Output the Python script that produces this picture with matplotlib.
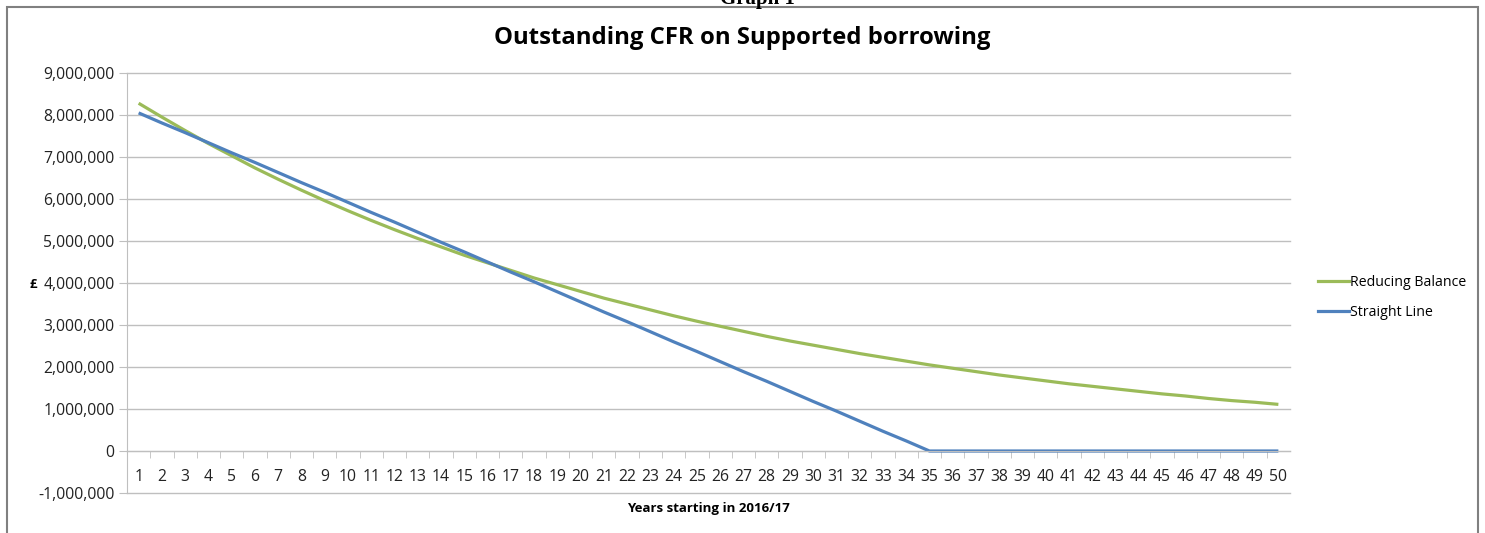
import numpy as np
import matplotlib.pyplot as plt
from matplotlib.ticker import FuncFormatter, MultipleLocator
from matplotlib.lines import Line2D
from matplotlib.patches import Rectangle

plt.rcParams['font.family'] = ['Open Sans', 'DejaVu Sans']

# years 1..50 starting in 2016/17
years = list(range(1, 51))

# outstanding CFR, pounds
reducing_balance = [
    8280000, 7950000, 7630000, 7320000, 7030000, 6740000, 6470000, 6210000, 5960000, 5720000,
    5490000, 5270000, 5060000, 4860000, 4660000, 4480000, 4300000, 4120000, 3960000, 3800000,
    3640000, 3500000, 3360000, 3220000, 3090000, 2970000, 2850000, 2730000, 2620000, 2520000,
    2420000, 2320000, 2230000, 2140000, 2050000, 1970000, 1890000, 1810000, 1740000, 1670000,
    1600000, 1540000, 1480000, 1420000, 1360000, 1310000, 1250000, 1200000, 1160000, 1110000,
]
straight_line = [
    8050000, 7810000, 7580000, 7340000, 7100000, 6870000, 6630000, 6390000, 6160000, 5920000,
    5680000, 5450000, 5210000, 4970000, 4740000, 4500000, 4260000, 4030000, 3790000, 3550000,
    3310000, 3080000, 2840000, 2600000, 2370000, 2130000, 1890000, 1660000, 1420000, 1180000,
    950000, 710000, 470000, 240000, 0, 0, 0, 0, 0, 0,
    0, 0, 0, 0, 0, 0, 0, 0, 0, 0,
]
series_names = ['Reducing Balance', 'Straight Line']

green = '#9BBB59'
blue = '#4F81BD'
grid_c = '#BFBFBF'

fig = plt.figure(figsize=(14.85, 5.33), dpi=100)
fig.patch.set_facecolor('white')
ax = fig.add_axes([127/1485, 1 - 493/533, (1290 - 127)/1485, (493 - 73)/533])

ax.plot(years, reducing_balance, color=green, lw=2.3, solid_capstyle='butt')
ax.plot(years, straight_line, color=blue, lw=2.3, solid_capstyle='butt')

ax.set_xlim(0.5, 50.5)
ax.set_ylim(-1000000, 9000000)
ax.yaxis.set_major_locator(MultipleLocator(1000000))
ax.yaxis.set_major_formatter(FuncFormatter(lambda v, p: f'{int(v):,}'))
ax.grid(axis='y', color=grid_c, lw=1.0)
for gl in ax.get_ygridlines():
    gl.set_clip_on(False)
ax.set_axisbelow(True)

# category axis sits on zero, ticks between the categories
ax.spines['bottom'].set_position(('data', 0))
for s in ['top', 'right']:
    ax.spines[s].set_visible(False)
ax.spines['left'].set_color(grid_c)
ax.spines['bottom'].set_color(grid_c)
ax.set_xticks(years)
ax.set_xticks(np.arange(1.5, 50.5, 1.0), minor=True)
ax.tick_params(axis='x', which='major', length=0, pad=13, labelsize=11.3, colors='#222222')
ax.tick_params(axis='x', which='minor', length=5, color=grid_c, direction='out')
ax.tick_params(axis='y', length=6, color=grid_c, pad=3, labelsize=11.3, labelcolor='#222222')

ax.set_xlabel('Years starting in 2016/17', fontsize=9.5, fontweight='bold', labelpad=0)
ax.xaxis.set_label_coords(0.5, -0.022)
fig.text(33/1485, 1 - 284/533, '£', fontsize=9.5, fontweight='bold', ha='center', va='center')

fig.text(0.5, 1 - 38/533, 'Outstanding CFR on Supported borrowing',
         fontsize=17.2, fontweight='bold', ha='center', va='center')
fig.text(757/1485, 1 - 4/533, 'Graph 1', family='Liberation Serif',
         fontsize=15, fontweight='bold', ha='center', va='baseline')

handles = [Line2D([], [], color=green, lw=2.3), Line2D([], [], color=blue, lw=2.3)]
fig.legend(handles, series_names, loc='upper left', bbox_to_anchor=(1305/1485, 1 - 262/533),
           frameon=False, fontsize=10.2, handlelength=2.2, handletextpad=0.1, labelspacing=1.05)

# chart frame
fig.add_artist(Rectangle((7/1485, -0.05), (1478 - 7)/1485, 1 - 7/533 + 0.05,
                         transform=fig.transFigure, fill=False, ec='#808080', lw=1.5))

fig.savefig('out.png', dpi=100)
